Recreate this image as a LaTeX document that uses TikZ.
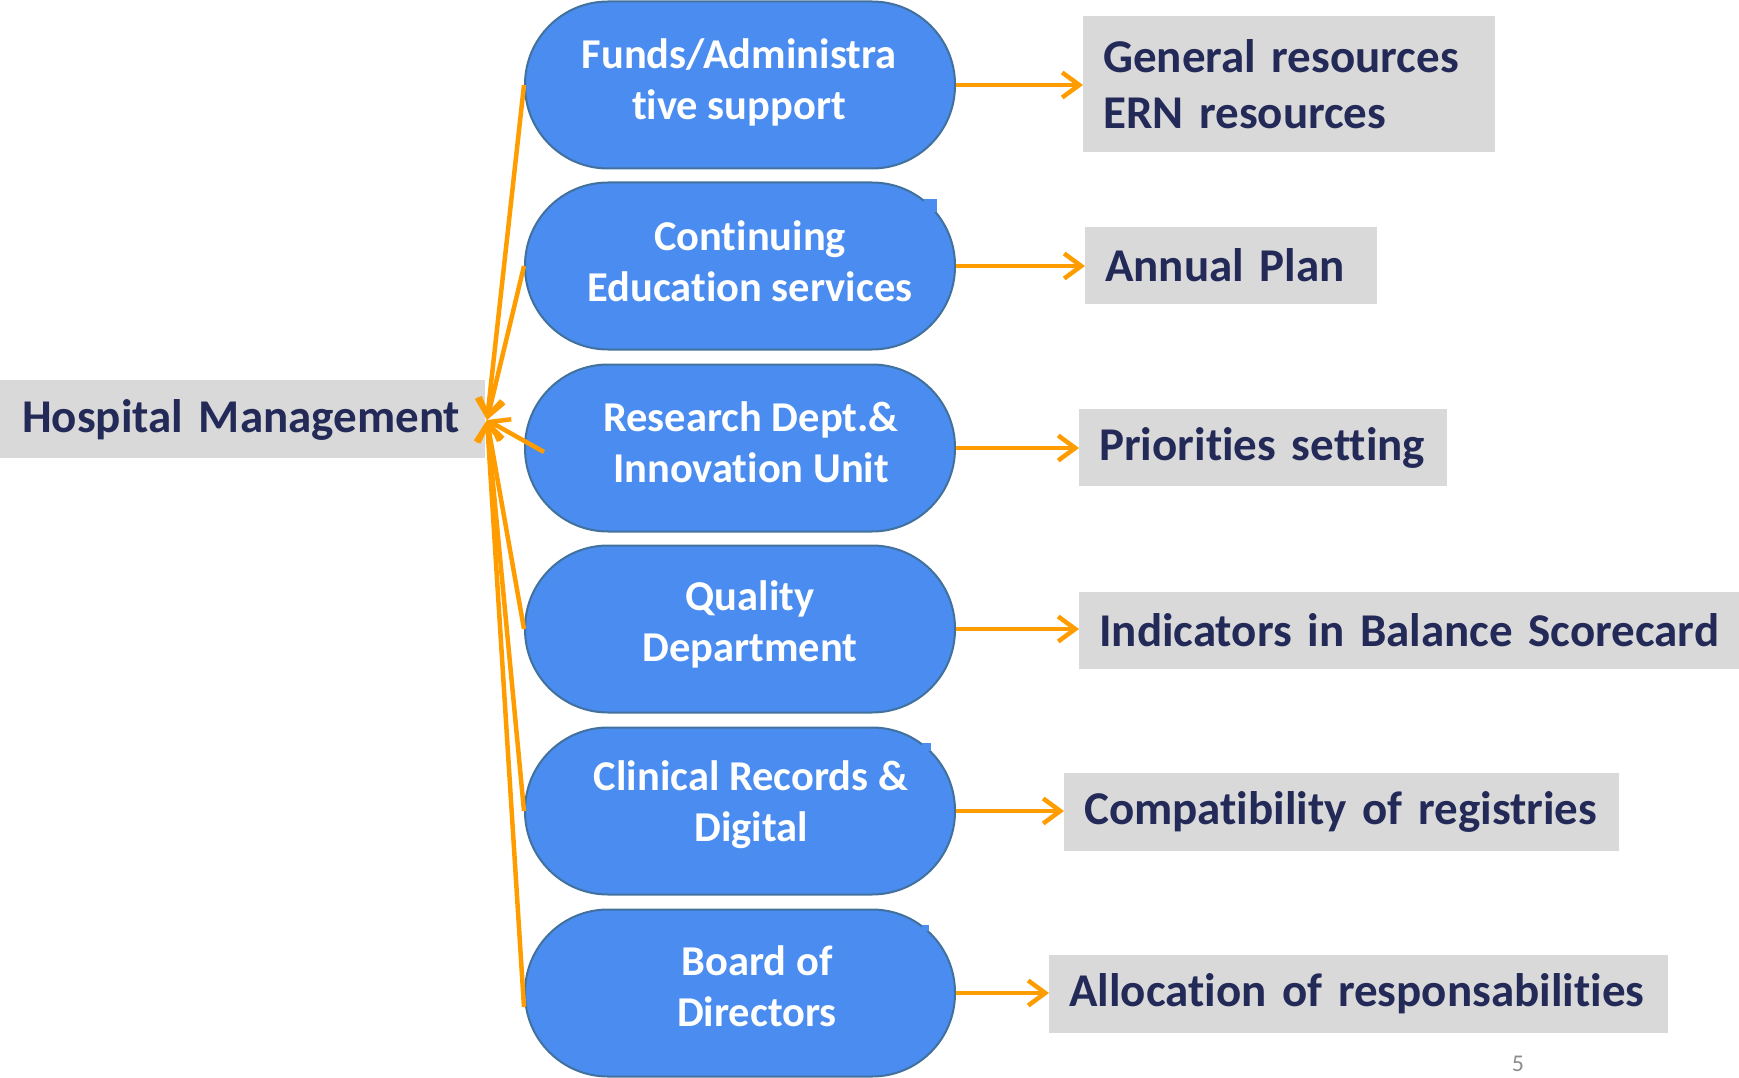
\documentclass[tikz,border=0pt]{standalone}
\usepackage{fontspec}
\setmainfont{Carlito}[Ligatures={NoCommon}]
\usetikzlibrary{arrows.meta}
\definecolor{pillfill}{HTML}{4A8CEF}
\definecolor{pillline}{HTML}{41719C}
\definecolor{boxgray}{HTML}{D9D9D9}
\definecolor{navy}{HTML}{232A58}
\definecolor{arrorange}{HTML}{FF9C00}
\definecolor{pagegray}{HTML}{8C8C8C}
\begin{document}
\begin{tikzpicture}[x=1pt,y=-1pt,
  pill/.style={draw=pillline, line width=2pt, fill=pillfill, rounded corners=83pt,
    minimum width=430pt, minimum height=167pt, inner sep=0pt},
  ptext/.style={text=white, font=\bfseries\fontsize{42.5}{51}\selectfont, align=center, inner sep=0pt},
  gbox/.style={fill=boxgray, text=navy, font=\bfseries\fontsize{47}{56}\selectfont,
    align=left, inner xsep=20pt, inner ysep=0pt, anchor=west},
  conn/.style={draw=arrorange, line width=4.5pt,
    -{Straight Barb[length=17pt,width=25pt]}}
]
\useasboundingbox (0,0) rectangle (1739,1078);

% pills
\node[pill] (p1) at (740,85)  {};
\node[pill] (p2) at (740,266) {};
\node[pill] (p3) at (740,448) {};
\node[pill] (p4) at (740,629) {};
\node[pill] (p5) at (740,811) {};
\node[pill] (p6) at (740,993) {};
% small artefacts at top right of some pills
\fill[pillfill] (924,199) rectangle (937,212);
\fill[pillfill] (922,743) rectangle (931,751);
\fill[pillfill] (922,925) rectangle (929,931);

% pill texts
\node[ptext] (t1) at (739,82)  {Funds/Administra\\tive support};
\node[ptext] (t2) at (750,261) {Continuing\\Education services};
\node[ptext] (t3) at (751,442) {Research Dept.\&\\Innovation Unit};
\node[ptext] (t4) at (750,624) {Quality\\Department};
\node[ptext] (t5) at (751,805) {Clinical Records \&\\Digital};
\node[ptext] (t6) at (757,986) {Board of\\Directors};

% grey boxes
\node[gbox, text width=441pt, minimum height=78pt, inner xsep=22pt,
      text height=33pt, text depth=6pt] (hm) at (0,419) {\mbox{Hospital Management}};
\node[gbox, text width=372pt, minimum height=136pt] (b1) at (1083,84) {\mbox{General resources}\\\mbox{ERN resources}};
\node[gbox, text width=252pt, minimum height=77pt] (b2) at (1085,265.5) {\mbox{Annual Plan}};
\node[gbox, text width=328pt, minimum height=77pt] (b3) at (1079,447.5) {\mbox{Priorities setting}};
\node[gbox, text width=620pt, minimum height=77pt] (b4) at (1079,630.5) {\mbox{Indicators in Balance Scorecard}};
\node[gbox, text width=515pt, minimum height=78pt] (b5) at (1064,812) {\mbox{Compatibility of registries}};
\node[gbox, text width=579pt, minimum height=78pt] (b6) at (1049,994) {\mbox{Allocation of responsabilities}};

% page number
\node[text=pagegray, font=\fontsize{24}{28}\selectfont, inner sep=0pt] (pg) at (1518,1064) {5};

% connectors to hospital management
\coordinate (hub) at (487,420);
\draw[conn] (p1.west) -- (hub);
\draw[conn] (p2.west) -- (hub);
\draw[conn] ([xshift=20pt,yshift=-4pt]p3.west) -- (hub);
\draw[conn] (p4.west) -- (hub);
\draw[conn] (p5.west) -- (hub);
\draw[conn] ([yshift=-14pt]p6.west) -- (hub);

% connectors to the right boxes
\draw[conn] (p1.east) -- (p1.east -| b1.west);
\draw[conn] (p2.east) -- (p2.east -| b2.west);
\draw[conn] (p3.east) -- (p3.east -| b3.west);
\draw[conn] (p4.east) -- (p4.east -| b4.west);
\draw[conn] (p5.east) -- (p5.east -| b5.west);
\draw[conn] (p6.east) -- (p6.east -| b6.west);
\end{tikzpicture}
\end{document}
